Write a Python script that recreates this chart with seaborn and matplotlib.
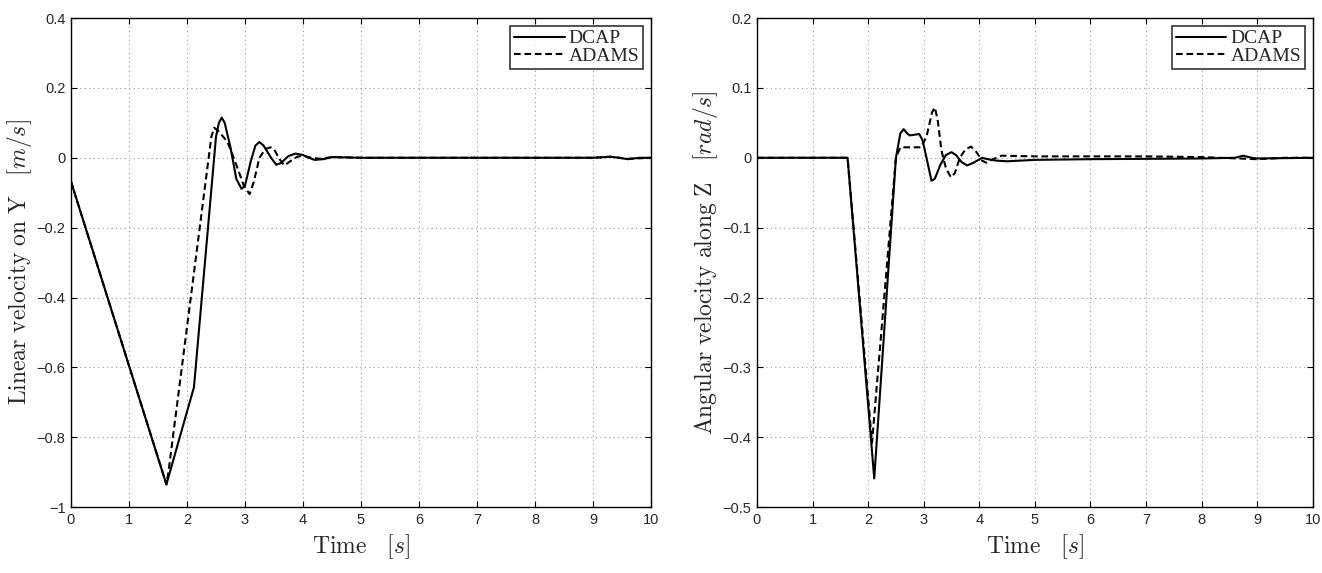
import numpy as np
import pandas as pd
import matplotlib
matplotlib.use("Agg")
import matplotlib.pyplot as plt
import seaborn as sns

# Left panel: linear velocity on Y
lin_dcap_t = [0.0, 1.645, 2.12, 2.5, 2.55, 2.6, 2.65, 2.75, 2.85, 2.94, 3.0, 3.1, 3.18, 3.25, 3.32, 3.45, 3.54, 3.62, 3.75, 3.87, 4.0, 4.1, 4.2, 4.35, 4.5, 5.0, 9.0, 9.2, 9.3, 9.45, 9.6, 9.8, 10.0]
lin_dcap_v = [-0.068, -0.935, -0.657, 0.06, 0.1, 0.115, 0.1, 0.03, -0.06, -0.089, -0.08, -0.01, 0.035, 0.045, 0.035, 0.0, -0.02, -0.015, 0.005, 0.012, 0.008, 0.0, -0.006, -0.004, 0.002, 0.0, 0.0, 0.002, 0.003, 0.0, -0.004, 0.0, 0.0]
lin_adams_t = [0.0, 1.645, 1.68, 2.42, 2.47, 2.55, 2.7, 2.85, 2.98, 3.08, 3.15, 3.25, 3.35, 3.44, 3.5, 3.6, 3.68, 3.78, 3.9, 4.0, 4.15, 4.3, 4.5, 5.0, 9.0, 9.3, 9.6, 10.0]
lin_adams_v = [-0.068, -0.935, -0.9, 0.06, 0.086, 0.075, 0.045, -0.02, -0.08, -0.104, -0.07, 0.0, 0.025, 0.03, 0.025, -0.005, -0.022, -0.01, 0.003, 0.006, 0.0, -0.003, 0.002, 0.0, 0.0, 0.003, -0.003, 0.0]

# Right panel: angular velocity along Z
ang_dcap_t = [0.0, 1.63, 2.11, 2.5, 2.58, 2.64, 2.7, 2.75, 2.92, 2.98, 3.05, 3.14, 3.2, 3.3, 3.4, 3.5, 3.58, 3.68, 3.78, 3.9, 4.05, 4.15, 4.3, 4.5, 5.0, 6.0, 8.0, 8.6, 8.75, 8.9, 9.0, 10.0]
ang_dcap_v = [0.0, 0.0, -0.459, 0.0, 0.035, 0.041, 0.035, 0.032, 0.034, 0.025, 0.0, -0.033, -0.03, -0.01, 0.004, 0.008, 0.004, -0.006, -0.011, -0.007, 0.0, -0.002, -0.004, -0.005, -0.003, -0.002, -0.001, 0.0, 0.003, 0.0, -0.001, 0.0]
ang_adams_t = [0.0, 1.63, 2.07, 2.5, 2.58, 2.95, 3.05, 3.15, 3.2, 3.25, 3.32, 3.4, 3.49, 3.56, 3.65, 3.75, 3.85, 3.95, 4.05, 4.12, 4.25, 4.4, 5.0, 7.0, 8.0, 9.0, 9.5, 10.0]
ang_adams_v = [0.0, 0.0, -0.408, 0.0, 0.015, 0.015, 0.03, 0.065, 0.072, 0.055, 0.01, -0.015, -0.028, -0.022, 0.0, 0.012, 0.016, 0.008, -0.004, -0.007, -0.002, 0.003, 0.002, 0.002, 0.001, -0.002, 0.0, 0.0]

x_ticks = list(range(0, 11))
lin_yticks = [-1.0, -0.8, -0.6, -0.4, -0.2, 0.0, 0.2, 0.4]
ang_yticks = [-0.5, -0.4, -0.3, -0.2, -0.1, 0.0, 0.1, 0.2]

sns.set_theme(style="white")
plt.rcParams['font.family'] = ['Liberation Sans', 'DejaVu Sans']
plt.rcParams['mathtext.fontset'] = 'cm'
plt.rcParams['axes.unicode_minus'] = True

fig = plt.figure(figsize=(13.22, 5.73), dpi=100)
ax1 = fig.add_axes([0.0537, 0.115, 0.4387, 0.8535])
ax2 = fig.add_axes([0.5726, 0.115, 0.4204, 0.8535])

def fmt(v):
    if abs(v) < 1e-9:
        return "0"
    s = ("%g" % v)
    return s.replace("-", "\u2212")

def draw(ax, td, vd, ta, va, yticks, ylabel):
    sns.lineplot(x=td, y=vd, ax=ax, color="black", lw=1.5, label="DCAP", estimator=None, sort=False)
    sns.lineplot(x=ta, y=va, ax=ax, color="black", lw=1.5, label="ADAMS", estimator=None, sort=False,
                 linestyle=(0, (3.2, 1.8)))
    ax.set_xlim(0, 10)
    ax.set_ylim(yticks[0], yticks[-1])
    ax.set_xticks(x_ticks)
    ax.set_xticklabels([str(t) for t in x_ticks], fontsize=10.5)
    ax.set_yticks(yticks)
    ax.set_yticklabels([fmt(v) for v in yticks], fontsize=10.5)
    ax.grid(True, color="#999999", linestyle=(0, (1, 3)), linewidth=0.8)
    ax.tick_params(direction="in", length=4, width=0.8, color="black", pad=4,
                   top=True, right=True, bottom=True, left=True)
    for sp in ax.spines.values():
        sp.set_color("black")
        sp.set_linewidth(1.0)
    ax.set_xlabel(r"$\mathrm{Time}\quad[s]$", fontsize=17, labelpad=4)
    ax.set_ylabel(ylabel, fontsize=17, labelpad=2)
    leg = ax.legend(loc="upper right", frameon=True, fancybox=False,
                    borderpad=0.2, handlelength=2.6, handletextpad=0.2, labelspacing=0.0,
                    borderaxespad=0.4, prop={"family": "Liberation Serif", "size": 14})
    leg.get_frame().set_edgecolor("black")
    leg.get_frame().set_linewidth(1.2)

draw(ax1, lin_dcap_t, lin_dcap_v, lin_adams_t, lin_adams_v, lin_yticks,
     r"$\mathrm{Linear\ velocity\ on\ Y}\quad[m/s]$")
draw(ax2, ang_dcap_t, ang_dcap_v, ang_adams_t, ang_adams_v, ang_yticks,
     r"$\mathrm{Angular\ velocity\ along\ Z}\quad[rad/s]$")

fig.savefig("out.png", dpi=100)
